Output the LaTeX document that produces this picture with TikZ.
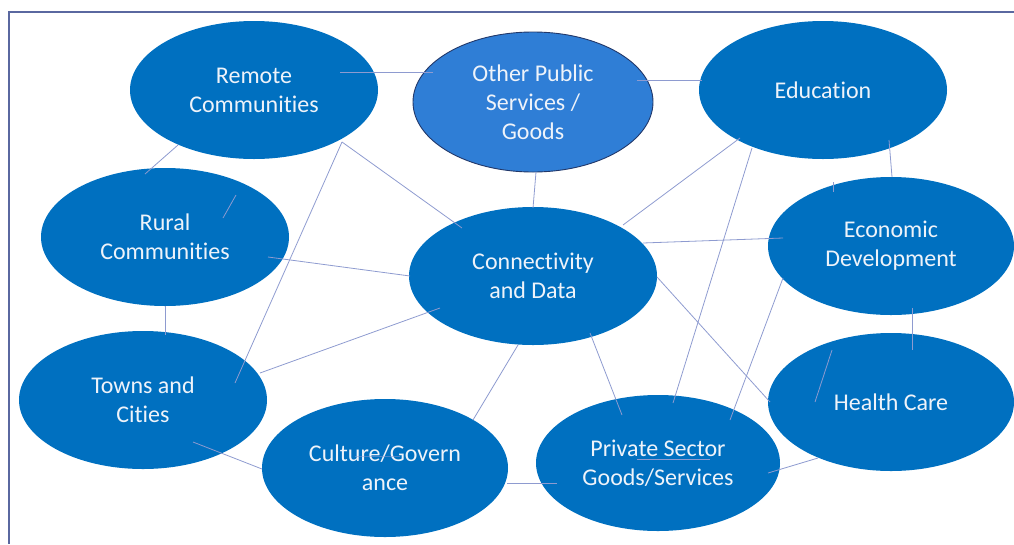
\documentclass[tikz,border=0pt]{standalone}
\usepackage{fontspec}
\setmainfont{Carlito}[Ligatures=NoCommon]
\usetikzlibrary{shapes.geometric}
\definecolor{bubble}{HTML}{0070C0}
\definecolor{bubblelight}{HTML}{2F7ED6}
\definecolor{bubbleedge}{HTML}{22386A}
\definecolor{linkcol}{HTML}{8E9BD0}
\definecolor{framecol}{HTML}{5A68A0}
\definecolor{labelcol}{HTML}{EEF3FA}
\tikzset{
  bubblenode/.style={ellipse, fill=bubble, draw=none, inner sep=0pt,
    minimum width=248pt, minimum height=138pt, align=center,
    text=labelcol, font=\fontsize{24}{29}\selectfont},
  hubnode/.style={bubblenode, fill=bubblelight, draw=bubbleedge, line width=0.9pt,
    minimum width=240pt, minimum height=140pt},
  link/.style={draw=linkcol, line width=0.8pt},
  framestyle/.style={draw=framecol, line width=1.3pt}
}
\begin{document}
\begin{tikzpicture}[x=1pt, y=-1pt]
\useasboundingbox (0,0) rectangle (1014,544);
% partial frame
\coordinate (ftl) at (9,12);
\coordinate (ftr) at (1014,12);
\coordinate (fbl) at (9,544);
\draw[framestyle] (ftr) -- (ftl) -- (fbl);

% bubbles
\node[bubblenode] (rc) at (254,90)  {Remote\\Communities};
\node[hubnode]    (op) at (533,102) {Other Public\\Services /\\Goods};
\node[bubblenode] (ed) at (823,90)  {Education};
\node[bubblenode] (ru) at (165,237) {Rural\\Communities};
\node[bubblenode] (cd) at (533,276) {Connectivity\\and Data};
\node[bubblenode, minimum width=246pt] (ec) at (891,246) {Economic\\Development};
\node[bubblenode, minimum width=246pt] (hc) at (891,402) {Health Care};
\node[bubblenode] (tc) at (143,400) {Towns and\\Cities};
\node[bubblenode, minimum width=246pt] (cg) at (385,468) {Culture/Govern\\ance};
\node[bubblenode, minimum width=244pt, minimum height=136pt] (ps) at (658,463) {Private Sector\\Goods/Services};

% connectors
\draw[link] ([shift={(86,-18)}]rc.center) -- ([shift={(-100,-30)}]op.center);
\draw[link] ([shift={(104,-22)}]op.center) -- ([shift={(-121,-10)}]ed.center);
\draw[link] ([shift={(-76,55)}]rc.center) -- ([shift={(-20,-63)}]ru.center);
\draw[link] ([shift={(71,-42)}]ru.center) -- ([shift={(58,-19)}]ru.center);
\draw[link] ([shift={(103,20)}]ru.center) -- ([shift={(-123,0)}]cd.center);
\draw[link] ([shift={(0,69)}]ru.center) -- ([shift={(22,-65)}]tc.center);
\draw[link] ([shift={(88,52)}]rc.center) -- ([shift={(-71,-48)}]cd.center);
\draw[link] ([shift={(88,52)}]rc.center) -- ([shift={(92,-17)}]tc.center);
\draw[link] ([shift={(3,70)}]op.center) -- ([shift={(0,-68)}]cd.center);
\draw[link] ([shift={(-93,32)}]cd.center) -- ([shift={(117,-27)}]tc.center);
\draw[link] ([shift={(-83,48)}]ed.center) -- ([shift={(90,-51)}]cd.center);
\draw[link] ([shift={(-71,58)}]ed.center) -- ([shift={(15,-60)}]ps.center);
\draw[link] ([shift={(110,-33)}]cd.center) -- ([shift={(-108,-8)}]ec.center);
\draw[link] ([shift={(124,1)}]cd.center) -- ([shift={(-121,0)}]hc.center);
\draw[link] ([shift={(57,57)}]cd.center) -- ([shift={(-36,-48)}]ps.center);
\draw[link] ([shift={(-15,69)}]cd.center) -- ([shift={(88,-48)}]cg.center);
\draw[link] ([shift={(-108,32)}]ec.center) -- ([shift={(72,-43)}]ps.center);
\draw[link] ([shift={(21,62)}]ec.center) -- ([shift={(21,-52)}]hc.center);
\draw[link] ([shift={(-59,-52)}]hc.center) -- ([shift={(-76,0)}]hc.center);
\draw[link] ([shift={(110,10)}]ps.center) -- ([shift={(-73,56)}]hc.center);
\draw[link] ([shift={(66,50)}]ed.center) -- ([shift={(1,-69)}]ec.center);
\draw[link] ([shift={(-58,-64)}]ec.center) -- ([shift={(-58,-54)}]ec.center);
\draw[link] ([shift={(50,42)}]tc.center) -- ([shift={(-123,1)}]cg.center);
\draw[link] ([shift={(122,15)}]cg.center) -- ([shift={(-101,20)}]ps.center);
\draw[link, opacity=0.5] ([shift={(-30,-12)}]cg.center) -- ([shift={(15,-12)}]cg.center);
\draw[link] ([shift={(-21,-4)}]ps.center) -- ([shift={(52,-4)}]ps.center);
\end{tikzpicture}
\end{document}
